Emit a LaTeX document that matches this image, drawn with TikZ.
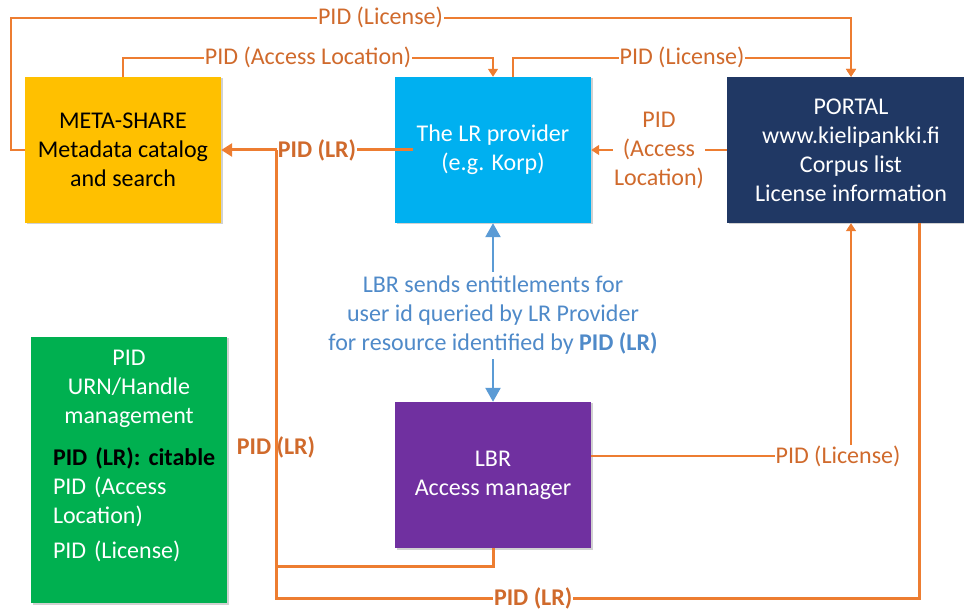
\documentclass[tikz,border=0pt]{standalone}
\usepackage{fontspec}
\setmainfont{Carlito}
\usetikzlibrary{arrows.meta,shadows}

\definecolor{metayellow}{HTML}{FFC000}
\definecolor{lrblue}{HTML}{00B0F0}
\definecolor{portalnavy}{HTML}{203864}
\definecolor{pidgreen}{HTML}{00B050}
\definecolor{lbrpurple}{HTML}{7030A0}
\definecolor{pidorange}{HTML}{ED7D31}
\definecolor{labelorange}{HTML}{D06A2C}
\definecolor{lbrblue}{HTML}{5B9BD5}
\definecolor{bluetext}{HTML}{4F8AC9}

\begin{document}
\begin{tikzpicture}[
        x=1pt, y=-1pt,
        every node/.style={font=\fontsize{24}{29}\selectfont},
        box/.style={rectangle, fill=#1, text=white, align=center, inner sep=0pt,
          minimum width=196pt, minimum height=146pt,
          drop shadow={shadow xshift=1.5pt, shadow yshift=-1.5pt, opacity=0.3, fill=black!60}},
        wire/.style={draw=pidorange, line width=1.5pt},
        thickwire/.style={draw=pidorange, line width=3pt},
        tip/.style={-{Triangle[width=10pt, length=8pt]}},
        thicktip/.style={-{Triangle[width=13pt, length=11pt]}},
        lab/.style={fill=white, text=labelorange, inner sep=1pt},
        boldlab/.style={lab, font=\fontsize{24}{29}\selectfont\bfseries}
      ]
      \useasboundingbox (0,0) rectangle (964,609);

      % boxes
      \node[box=metayellow, text=black] (meta) at (123,150) {META-SHARE\\Metadata catalog\\and search};
      \node[box=lrblue] (lr) at (493,150) {The LR provider\\(e.g. Korp)};
      \node[box=portalnavy, minimum width=248pt] (portal) at (851,150) {PORTAL\\www.kielipankki.fi\\Corpus list\\License information};
      \node[box=lbrpurple] (lbr) at (493,475) {LBR\\Access manager};
      \node[box=pidgreen, minimum height=266pt] (pid) at (129,470) {};
      \node[anchor=north, yshift=-13pt, text=white, text width=152pt, inner sep=0pt] (pidtext) at (pid.north) {%
        {\centering PID\\URN/Handle\\management\par}
        \vspace{13pt}
        \makebox[\linewidth][l]{\color{black}\textbf{PID (LR): citable}}\\
        PID (Access\\Location)\par
        \vspace{6pt}
        PID (License)};

      \coordinate (join) at (276,150);

      % thin connectors
      \draw[wire, tip] (meta.west) -- ++(-14,0) |- node[lab, pos=0.72] {PID (License)} ([yshift=59pt]portal.north) -- (portal.north);
      \draw[wire, tip] (meta.north) |- node[lab, pos=0.75] {PID (Access Location)} ([yshift=19pt]lr.north) -- (lr.north);
      \draw[wire, tip] ([xshift=20pt]lr.north) |- node[lab, pos=0.75] {PID (License)} ([yshift=19pt]portal.north) -- (portal.north);
      \draw[wire, tip] (portal.west) -- node[lab, align=center] {PID\\(Access\\Location)} (lr.east);
      \draw[wire, tip] ([yshift=19pt]lbr.east) -| node[lab, pos=0.5, xshift=-13pt] {PID (License)} (portal.south);

      % PID (LR)
      \draw[thickwire, thicktip] ([xshift=18pt]lr.west) -- node[boldlab] {PID (LR)} (meta.east);
      \draw[thickwire] (lbr.south) -- ++(0,18) -| node[boldlab, fill=none, pos=0.643] {PID (LR)} (join);
      \draw[thickwire] ([xshift=68pt]portal.south) -- ++(0,375) -| node[boldlab, pos=0.3] {PID (LR)} (join);

      % entitlements
      \draw[draw=lbrblue, line width=2.5pt, {Triangle[width=15pt, length=14pt]}-{Triangle[width=15pt, length=14pt]}]
        (lr.south) -- node[fill=white, text=bluetext, align=center, inner ysep=4pt, yshift=-3pt]
        {LBR sends entitlements for\\user id queried by LR Provider\\for resource identified by \textbf{PID (LR)}} (lbr.north);
    \end{tikzpicture}
\end{document}
